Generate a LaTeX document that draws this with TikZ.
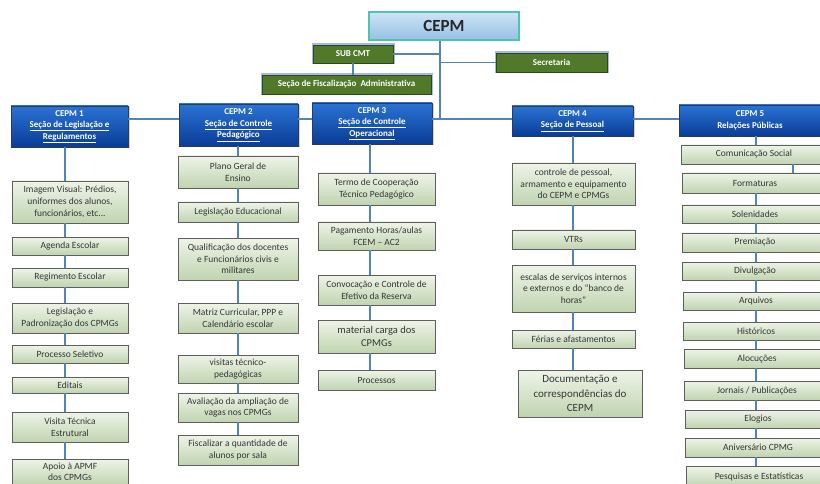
\documentclass[tikz,border=0pt]{standalone}
\usepackage{fontspec}
\setmainfont{Carlito}
\usetikzlibrary{shadows}

\definecolor{linkblue}{RGB}{84,130,186}
\definecolor{hdrtop}{RGB}{42,115,212}
\definecolor{hdrbot}{RGB}{10,60,150}
\definecolor{hdrline}{RGB}{40,60,95}
\definecolor{cmdgreen}{RGB}{80,122,42}
\definecolor{glowblue}{RGB}{105,135,230}
\definecolor{toptop}{RGB}{205,228,246}
\definecolor{topbot}{RGB}{150,192,228}
\definecolor{topline}{RGB}{78,196,170}
\definecolor{leaftop}{RGB}{238,244,232}
\definecolor{leafbot}{RGB}{192,212,176}
\definecolor{leafline}{RGB}{95,95,95}
\definecolor{leaftext}{RGB}{55,55,55}

\begin{document}
\begin{tikzpicture}[x=1pt,y=-1pt,
    link/.style={draw=linkblue,line width=1.4pt},
    chief/.style={draw=topline,line width=1.5pt,top color=toptop,bottom color=topbot,text=black!85,font=\fontsize{17}{20}\selectfont\bfseries,inner sep=0pt},
    staff/.style={draw=cmdgreen!60!black,line width=0.6pt,fill=cmdgreen,text=white,font=\fontsize{9}{10}\selectfont\bfseries,inner sep=0pt,preaction={draw=glowblue,line width=3pt,opacity=0.6}},
    sector/.style={draw=hdrline,line width=0.7pt,top color=hdrtop,bottom color=hdrbot,text=white,align=center,font=\fontsize{9}{11.6}\selectfont\bfseries,inner sep=0pt,drop shadow={opacity=0.35,shadow xshift=1.5pt,shadow yshift=-1.5pt}},
    task/.style={draw=leafline,line width=0.8pt,top color=leaftop,bottom color=leafbot,text=leaftext,align=center,font=\fontsize{9.5}{11.7}\selectfont,inner sep=0pt,drop shadow={opacity=0.3,shadow xshift=1.2pt,shadow yshift=-1.2pt}},
    tight/.style={font=\fontsize{9.5}{10.5}\selectfont},
    big/.style={font=\fontsize{10.5}{13}\selectfont},
    bigger/.style={font=\fontsize{11}{14.5}\selectfont},
    col1/.style={task,minimum width=116pt},
    col2/.style={task,minimum width=120pt},
    col3/.style={task,minimum width=117pt},
    col4/.style={task,minimum width=123pt},
    col5/.style={task,minimum width=146pt}]

      \useasboundingbox[fill=white] (0,0) rectangle (820,484);

      \coordinate (trunk) at (440,0);
      \coordinate (bus) at (0,119);
      \coordinate (col1) at (65,0);
      \coordinate (col2) at (238,0);
      \coordinate (col3) at (370,0);
      \coordinate (col4) at (573,0);
      \coordinate (col5) at (756,0);
      \coordinate (col5b) at (793,0);

      \node[chief,minimum width=150pt,minimum height=28pt] (cepm) at (444,26) {CEPM};
      \node[staff,minimum width=80pt,minimum height=18pt] (sub) at (353,54) {SUB CMT};
      \node[staff,minimum width=111pt,minimum height=19pt] (sec) at (551.5,62.5) {Secretaria};
      \node[staff,minimum width=169pt,minimum height=19pt] (fisc) at (346.5,84.5) {Seção de Fiscalização\ \ Administrativa};

      \node[sector,minimum width=117pt,minimum height=41pt] (h1) at (69.5,126.5) {CEPM 1\\\underline{Seção de Legislação e}\\\underline{Regulamentos}};
      \node[sector,minimum width=119pt,minimum height=42pt] (h2) at (238.5,125) {CEPM 2\\\underline{Seção de Controle}\\\underline{Pedagógico}};
      \node[sector,minimum width=120pt,minimum height=41pt] (h3) at (372,123.5) {CEPM 3\\\underline{Seção de Controle}\\\underline{Operacional}};
      \node[sector,minimum width=121pt,minimum height=30pt] (h4) at (572.5,121) {CEPM 4\\\underline{Seção de Pessoal}};
      \node[sector,minimum width=142pt,minimum height=31pt] (h5) at (750,120.5) {CEPM 5\\Relações Públicas};

      \node[col1,minimum height=42pt] (c1a) at (70,202) {Imagem Visual: Prédios,\\uniformes dos alunos,\\funcionários, etc...};
      \node[col1,minimum height=18pt] (c1b) at (70,246) {Agenda Escolar};
      \node[col1,minimum height=19pt] (c1c) at (70,277.5) {Regimento Escolar};
      \node[col1,minimum height=30pt] (c1d) at (70,318) {Legislação e\\Padronização dos CPMGs};
      \node[col1,minimum height=18pt] (c1e) at (70,354) {Processo Seletivo};
      \node[col1,minimum height=16pt] (c1f) at (70,385) {Editais};
      \node[col1,minimum height=30pt] (c1g) at (70,427) {Visita Técnica\\Estrutural};
      \node[col1,tight,minimum height=26pt] (c1h) at (70,472) {Apoio à APMF\\dos CPMGs};

      \node[col2,minimum height=32pt] (c2a) at (238,172) {Plano Geral de\\Ensino};
      \node[col2,minimum height=20pt] (c2b) at (238,212) {Legislação Educacional};
      \node[col2,minimum height=42pt] (c2c) at (238,259) {Qualificação dos docentes\\e Funcionários civis e\\militares};
      \node[col2,minimum height=30pt] (c2d) at (238,318) {Matriz Curricular, PPP e\\Calendário escolar};
      \node[col2,minimum height=28pt] (c2e) at (238,369) {visitas técnico-\\pedagógicas};
      \node[col2,minimum height=29pt] (c2f) at (238,407.5) {Avaliação da ampliação de\\vagas nos CPMGs};
      \node[col2,minimum height=30pt] (c2g) at (238,450) {Fiscalizar a quantidade de\\alunos por sala};

      \node[col3,minimum height=32pt] (c3a) at (376.5,189) {Termo de Cooperação\\Técnico Pedagógico};
      \node[col3,minimum height=28pt] (c3b) at (376.5,236) {Pagamento Horas/aulas\\FCEM -- AC2};
      \node[col3,minimum height=30pt] (c3c) at (376.5,290) {Convocação e Controle de\\Efetivo da Reserva};
      \node[col3,big,minimum height=33pt] (c3d) at (376.5,336.5) {material carga dos\\CPMGs};
      \node[col3,minimum height=20pt] (c3e) at (376.5,380) {Processos};

      \node[col4,minimum height=42pt] (c4a) at (573.5,184) {controle de pessoal,\\armamento e equipamento\\do CEPM e CPMGs};
      \node[col4,minimum height=19pt] (c4b) at (573.5,239.5) {VTRs};
      \node[col4,minimum height=47pt] (c4c) at (573.5,288.5) {escalas de serviços internos\\e externos e do ``banco de\\horas''};
      \node[col4,minimum height=18pt] (c4d) at (573.5,339) {Férias e afastamentos};
      \node[col4,bigger,minimum width=124pt,minimum height=47pt] (c4e) at (580,393.5) {Documentação e\\correspondências do\\CEPM};

      \node[col5,minimum height=19pt] (c5a) at (754,154.5) {Comunicação Social};
      \node[col5,minimum height=20pt] (c5b) at (755,183) {Formaturas};
      \node[col5,minimum height=18pt] (c5c) at (755,214) {Solenidades};
      \node[col5,minimum height=19pt] (c5d) at (755,242.5) {Premiação};
      \node[col5,minimum height=18pt] (c5e) at (755,271) {Divulgação};
      \node[col5,minimum height=18pt] (c5f) at (756,301) {Arquivos};
      \node[col5,minimum height=18pt] (c5g) at (756,331) {Históricos};
      \node[col5,minimum height=19pt] (c5h) at (757,358.5) {Alocuções};
      \node[col5,minimum height=19pt] (c5i) at (757,390.5) {Jornais / Publicações};
      \node[col5,minimum height=18pt] (c5j) at (758,419) {Elogios};
      \node[col5,minimum height=19pt] (c5k) at (758,447.5) {Aniversário CPMG};
      \node[col5,minimum height=20pt] (c5l) at (759,476.5) {Pesquisas e Estatísticas};

      \draw[link] (cepm.south -| trunk) -- (trunk |- bus);
      \draw[link] (sub.east) -- (sub.east -| trunk);
      \draw[link] (sec.west) -- (sec.west -| trunk);
      \draw[link] (sub.south) -- (fisc.north -| sub.south);

      \draw[link] (h1.east |- bus) -- (h2.west |- bus) (h2.east |- bus) -- (h3.west |- bus)
        (h3.east |- bus) -- (h4.west |- bus) (h4.east |- bus) -- (h5.west |- bus);

      \draw[link] (h1.south -| col1) -- (c1a.north -| col1) (c1a.south -| col1) -- (c1b.north -| col1)
        (c1b.south -| col1) -- (c1c.north -| col1) (c1c.south -| col1) -- (c1d.north -| col1)
        (c1d.south -| col1) -- (c1e.north -| col1) (c1e.south -| col1) -- (c1f.north -| col1)
        (c1f.south -| col1) -- (c1g.north -| col1) (c1g.south -| col1) -- (c1h.north -| col1);

      \draw[link] (h2.south -| col2) -- (c2a.north -| col2) (c2a.south -| col2) -- (c2b.north -| col2)
        (c2b.south -| col2) -- (c2c.north -| col2) (c2c.south -| col2) -- (c2d.north -| col2)
        (c2d.south -| col2) -- (c2e.north -| col2) (c2e.south -| col2) -- (c2f.north -| col2)
        (c2f.south -| col2) -- (c2g.north -| col2);

      \draw[link] (h3.south -| col3) -- (c3a.north -| col3) (c3a.south -| col3) -- (c3b.north -| col3)
        (c3b.south -| col3) -- (c3c.north -| col3) (c3c.south -| col3) -- (c3d.north -| col3)
        (c3d.south -| col3) -- (c3e.north -| col3);

      \draw[link] (h4.south -| col4) -- (c4a.north -| col4) (c4a.south -| col4) -- (c4b.north -| col4)
        (c4b.south -| col4) -- (c4c.north -| col4) (c4c.south -| col4) -- (c4d.north -| col4)
        (c4d.south -| col4) -- (c4e.north -| col4);

      \draw[link] (h5.south -| col5) -- (c5a.north -| col5) (c5a.south -| col5b) -- (c5b.north -| col5b)
        (c5b.south -| col5) -- (c5c.north -| col5) (c5c.south -| col5) -- (c5d.north -| col5)
        (c5d.south -| col5) -- (c5e.north -| col5) (c5e.south -| col5) -- (c5f.north -| col5)
        (c5f.south -| col5) -- (c5g.north -| col5) (c5g.south -| col5) -- (c5h.north -| col5)
        (c5h.south -| col5) -- (c5i.north -| col5) (c5i.south -| col5) -- (c5j.north -| col5)
        (c5j.south -| col5) -- (c5k.north -| col5) (c5k.south -| col5) -- (c5l.north -| col5);

    \end{tikzpicture}
\end{document}
